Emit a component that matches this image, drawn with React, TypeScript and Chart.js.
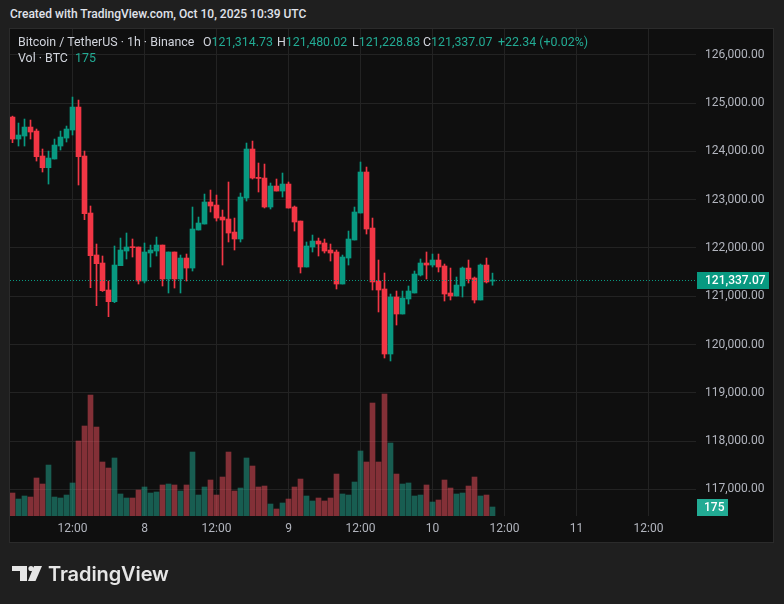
import React, { useEffect, useRef } from 'react';
import { Chart, registerables } from 'chart.js';

Chart.register(...registerables);

// hours after Oct 7, 2025 00:00 UTC of the first visible 1h candle
const FIRST_HOUR = 2;

const opens = [
  124711, 124256, 124318, 124504, 124421, 123904, 123662, 123842, 124111, 124276,
  124442, 124918, 123904, 122724, 121855, 121689, 121130, 120888, 121634, 121937,
  122020, 122020, 121316, 121896, 121937, 122061, 121358, 121917, 121358, 121792,
  121585, 122372, 122496, 122952, 122889, 122641, 122600, 122330, 122186, 123034,
  124049, 123462, 123448, 122848, 123283, 123179, 123324, 122848, 122558, 121606,
  122020, 122144, 122103, 121958, 121917, 121254, 121792, 122165, 122724, 123573,
  122413, 121316, 121151, 119805, 120985, 120633, 120944, 121068, 121440, 121689,
  121647, 121751, 121627, 121068, 121006, 121213, 121585, 121378, 120923, 121647,
  121314.73,
];
const highs = [
  124730, 124587, 124670, 124649, 124463, 124049, 124007, 124256, 124421, 124525,
  125125, 125063, 124007, 122869, 122082, 121834, 121316, 122041, 122206, 122310,
  122186, 122020, 122103, 122061, 122227, 122061, 121917, 121917, 121854, 121875,
  122848, 122641, 123117, 123200, 123096, 122786, 123366, 122620, 123138, 124173,
  124214, 123759, 123738, 123345, 123428, 123552, 123366, 122869, 122558, 122124,
  122268, 122206, 122185, 122082, 121958, 121854, 122351, 122848, 123780, 123676,
  122620, 121751, 121482, 121047, 121109, 121109, 121213, 121523, 121772, 121917,
  121875, 121875, 121668, 121585, 121399, 121606, 121751, 121399, 121668, 121792,
  121480.02,
];
const lows = [
  124180, 124111, 124111, 124256, 123800, 123573, 123324, 123842, 124028, 124194,
  124339, 123304, 122586, 121178, 120806, 121100, 120578, 120868, 121634, 121772,
  121813, 121254, 121275, 121606, 121834, 121213, 121068, 121171, 121068, 121316,
  121523, 122372, 122496, 122745, 122558, 121647, 122124, 121958, 122124, 122972,
  123428, 123159, 122828, 122807, 123179, 123055, 122827, 122351, 121482, 121606,
  121917, 121834, 121896, 121730, 121151, 121254, 121647, 122165, 122724, 122289,
  121130, 120675, 119722, 119660, 120405, 120633, 120840, 121068, 121420, 121358,
  121606, 121503, 120902, 120923, 121006, 120985, 121275, 120861, 120923, 121275,
  121228.83,
];
const closes = [
  124256, 124339, 124504, 124401, 123890, 123662, 123862, 124131, 124297, 124463,
  124918, 123890, 122710, 121841, 121675, 121116, 120888, 121647, 121958, 122020,
  122006, 121316, 121917, 121958, 122061, 121358, 121917, 121358, 121792, 121585,
  122393, 122517, 122952, 122869, 122620, 122579, 122310, 122186, 123055, 124049,
  123448, 123440, 122848, 123283, 123179, 123324, 122827, 122538, 121606, 122041,
  122144, 122082, 121937, 121896, 121254, 121813, 122186, 122745, 123573, 122393,
  121296, 121130, 119805, 120985, 120633, 120964, 121109, 121461, 121689, 121647,
  121751, 121606, 121047, 121006, 121233, 121585, 121358, 120923, 121647, 121296,
  121337.07,
];
const volumes = [
  447, 330, 389, 369, 739, 622, 991, 369, 350, 408,
  642, 1458, 1750, 2352, 1730, 1050, 933, 1128, 428, 350,
  350, 505, 564, 447, 467, 603, 622, 603, 486, 603,
  1244, 408, 564, 700, 408, 758, 1244, 486, 544, 1128,
  972, 564, 583, 233, 136, 253, 330, 564, 719, 389,
  292, 350, 292, 350, 816, 428, 408, 661, 1264, 1050,
  2197, 1050, 2372, 1419, 816, 622, 642, 389, 408, 603,
  272, 311, 700, 544, 428, 447, 583, 758, 389, 408,
  175,
];

const priceTicks = [117000, 118000, 119000, 120000, 121000, 122000, 123000, 124000, 125000, 126000];
const timeTickHours = [12, 24, 36, 48, 60, 72, 84, 96, 108];
const timeTickLabels = ['12:00', '8', '12:00', '9', '12:00', '10', '12:00', '11', '12:00'];

const UP = '#089981';
const DOWN = '#f23645';
const VOL_UP = 'rgba(34,171,148,0.5)';
const VOL_DOWN = 'rgba(247,82,95,0.5)';
const FONT = 'Roboto, "Noto Sans", sans-serif';

const fmtPrice = (v: number) =>
  v.toLocaleString('en-US', { minimumFractionDigits: 2, maximumFractionDigits: 2 });

const overlayPlugin = {
  id: 'tvOverlay',
  afterDatasetsDraw(chart: any) {
    const { ctx, chartArea, scales } = chart;
    const last = closes[closes.length - 1];
    const y = Math.round(scales.y.getPixelForValue(last)) + 0.5;
    ctx.save();
    ctx.strokeStyle = UP;
    ctx.lineWidth = 1;
    ctx.setLineDash([1, 2]);
    ctx.beginPath();
    ctx.moveTo(chartArea.left, y);
    ctx.lineTo(chartArea.right, y);
    ctx.stroke();
    ctx.restore();
  },
  afterDraw(chart: any) {
    const { ctx, chartArea, scales } = chart;
    const last = closes[closes.length - 1];
    const py = Math.round(scales.y.getPixelForValue(last));
    ctx.save();
    ctx.fillStyle = UP;
    ctx.fillRect(chartArea.right + 1, py - 8, 72, 17);
    ctx.fillStyle = '#ffffff';
    ctx.font = `500 12px ${FONT}`;
    ctx.textBaseline = 'middle';
    ctx.textAlign = 'left';
    ctx.fillText(fmtPrice(last), chartArea.right + 9, py + 1);

    const lastVol = volumes[volumes.length - 1];
    const vy = Math.round(scales.yVol.getPixelForValue(lastVol));
    const top = Math.min(vy - 8, chartArea.bottom - 17);
    ctx.fillStyle = '#22ab94';
    ctx.fillRect(chartArea.right + 1, top, 31, 17);
    ctx.fillStyle = '#ffffff';
    ctx.fillText(String(lastVol), chartArea.right + 8, top + 9);
    ctx.restore();
  },
};

function CandleChart() {
  const ref = useRef<HTMLCanvasElement | null>(null);
  useEffect(() => {
    if (!ref.current) return;
    const hours = opens.map((_, i) => FIRST_HOUR + i);
    const isUp = opens.map((o, i) => closes[i] >= o);
    const chart = new Chart(ref.current, {
      type: 'bar',
      data: {
        datasets: [
          {
            label: 'Body',
            data: hours.map((h, i) => ({ x: h, y: [opens[i], closes[i]] })) as any,
            backgroundColor: isUp.map((u) => (u ? UP : DOWN)),
            barThickness: 5,
            minBarLength: 1,
            grouped: false,
            borderWidth: 0,
            yAxisID: 'y',
            order: 1,
          } as any,
          {
            label: 'Wick',
            data: hours.map((h, i) => ({ x: h, y: [lows[i], highs[i]] })) as any,
            backgroundColor: isUp.map((u) => (u ? UP : DOWN)),
            barThickness: 1,
            grouped: false,
            borderWidth: 0,
            yAxisID: 'y',
            order: 2,
          } as any,
          {
            label: 'Volume',
            data: hours.map((h, i) => ({ x: h, y: volumes[i] })) as any,
            backgroundColor: isUp.map((u) => (u ? VOL_UP : VOL_DOWN)),
            barThickness: 5,
            grouped: false,
            borderWidth: 0,
            yAxisID: 'yVol',
            order: 3,
          } as any,
        ],
      },
      options: {
        animation: false,
        responsive: false,
        devicePixelRatio: 1,
        events: [],
        layout: { padding: { left: 10, top: 29, right: 10, bottom: 61 } },
        plugins: { legend: { display: false }, tooltip: { enabled: false } },
        scales: {
          x: {
            type: 'linear',
            min: 9.5 / 6,
            max: 695.5 / 6,
            offset: false,
            grid: { color: '#232323', drawTicks: false, offset: false, lineWidth: 1 },
            border: { display: false },
            afterBuildTicks: (scale: any) => {
              scale.ticks = timeTickHours.map((v) => ({ value: v }));
            },
            afterFit: (scale: any) => {
              scale.height = 27;
            },
            ticks: {
              color: '#b2b5be',
              font: { family: FONT, size: 12 },
              padding: 6,
              maxRotation: 0,
              autoSkip: false,
              callback: (_v: any, i: number) => timeTickLabels[i],
            },
          },
          y: {
            type: 'linear',
            position: 'right',
            min: 116451,
            max: 126534,
            grid: { color: '#232323', drawTicks: false, lineWidth: 1 },
            border: { display: false },
            afterBuildTicks: (scale: any) => {
              scale.ticks = priceTicks.map((v) => ({ value: v }));
            },
            afterFit: (scale: any) => {
              scale.width = 78;
            },
            ticks: {
              color: '#b2b5be',
              font: { family: FONT, size: 12 },
              padding: 9,
              crossAlign: 'near',
              callback: (v: any) => fmtPrice(Number(v)),
            },
          },
          yVol: {
            type: 'linear',
            display: false,
            min: 0,
            max: 9470,
            grid: { display: false },
          },
        },
      } as any,
      plugins: [overlayPlugin],
    });
    return () => chart.destroy();
  }, []);
  return (
    <canvas
      ref={ref}
      width={784}
      height={604}
      style={{ position: 'absolute', left: 0, top: 0, width: 784, height: 604 }}
    />
  );
}

export default function App() {
  const green = '#22ab94';
  const label = '#d1d4dc';
  const lineStyle: React.CSSProperties = {
    position: 'absolute',
    fontFamily: FONT,
    fontSize: 12.4,
    lineHeight: '16px',
    whiteSpace: 'nowrap',
    color: label,
  };
  return (
    <div
      style={{
        position: 'fixed',
        left: 0,
        top: 0,
        width: 784,
        height: 604,
        background: '#1f1f1f',
        overflow: 'hidden',
      }}
    >
      <div
        style={{
          position: 'absolute',
          left: 10,
          top: 6,
          fontFamily: FONT,
          fontSize: 12,
          fontWeight: 500,
          lineHeight: '16px',
          color: '#e0e3eb',
          whiteSpace: 'nowrap',
        }}
      >
        Created with TradingView.com, Oct 10, 2025 10:39 UTC
      </div>
      <div
        style={{
          position: 'absolute',
          left: 9,
          top: 28,
          width: 765,
          height: 515,
          boxSizing: 'border-box',
          border: '1px solid #2b2b2b',
          background: '#0f0f0f',
        }}
      />
      <CandleChart />
      <div style={{ ...lineStyle, left: 18, top: 34 }}>Bitcoin / TetherUS · 1h · Binance</div>
      <div style={{ ...lineStyle, left: 203, top: 34 }}>
        O<span style={{ color: green }}>121,314.73</span>
      </div>
      <div style={{ ...lineStyle, left: 277, top: 34 }}>
        H<span style={{ color: green }}>121,480.02</span>
      </div>
      <div style={{ ...lineStyle, left: 352, top: 34 }}>
        L<span style={{ color: green }}>121,228.83</span>
      </div>
      <div style={{ ...lineStyle, left: 423, top: 34 }}>
        C<span style={{ color: green }}>121,337.07</span>
      </div>
      <div style={{ ...lineStyle, left: 498, top: 34, color: green }}>+22.34 (+0.02%)</div>
      <div style={{ ...lineStyle, left: 18, top: 50 }}>Vol · BTC</div>
      <div style={{ ...lineStyle, left: 75, top: 50, color: green }}>175</div>
      <svg
        width={32}
        height={18}
        viewBox="0 0 32 18"
        style={{ position: 'absolute', left: 11, top: 565 }}
      >
        <path d="M1 1 H16 V16 H9 V6 H1 Z" fill="#e6e6e6" />
        <circle cx={20} cy={3.5} r={2.6} fill="#e6e6e6" />
        <path d="M23 1 H31 L24.5 16 H17 Z" fill="#e6e6e6" />
      </svg>
      <div
        style={{
          position: 'absolute',
          left: 48,
          top: 561,
          fontFamily: 'Inter, Roboto, sans-serif',
          fontSize: 20,
          fontWeight: 600,
          lineHeight: '26px',
          color: '#e6e6e6',
          whiteSpace: 'nowrap',
          letterSpacing: -0.1,
        }}
      >
        TradingView
      </div>
    </div>
  );
}
